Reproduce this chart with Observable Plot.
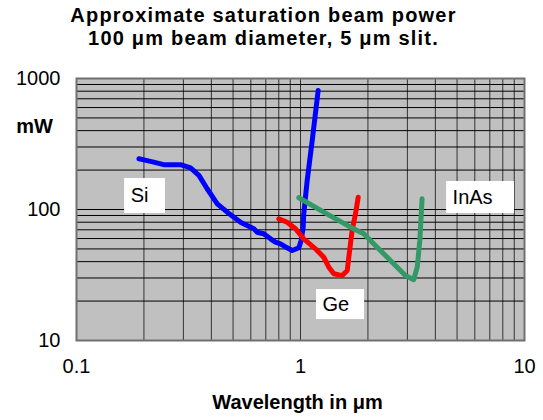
<!DOCTYPE html>
<html>
<head>
<meta charset="utf-8">
<script src="https://cdn.jsdelivr.net/npm/d3@7"></script>
<script src="https://cdn.jsdelivr.net/npm/@observablehq/plot@0.6"></script>
<style>
  body { margin: 0; background: #fff; font-family: "Liberation Sans", Arial, sans-serif; }
  #wrap { width: 543px; height: 420px; position: relative; }
  #title { width: 527px; height: 62px; text-align: center; font-weight: bold; font-size: 20px; line-height: 23px; padding-top: 4px; box-sizing: border-box; letter-spacing: 1.2px; }
</style>
</head>
<body>
<div id="wrap">
  <div id="title">Approximate saturation beam power<br>100 μm beam diameter, 5 μm slit.</div>
  <div id="chart"></div>
</div>
<script>
// Silicon
const siWavelength = [0.190, 0.200, 0.221, 0.245, 0.291, 0.323, 0.352, 0.383, 0.425, 0.471, 0.540, 0.619, 0.641, 0.685, 0.735, 0.773, 0.814, 0.872, 0.918, 0.983, 1.007, 1.028, 1.034, 1.071, 1.128, 1.199];
const siPower      = [244, 239, 230, 220, 220, 208, 182, 144, 110.5, 95.4, 80, 71.3, 67.1, 65.3, 59.7, 56.3, 54.7, 51, 48.6, 51, 58, 73.3, 92.7, 166, 336, 810];
// Germanium
const geWavelength = [0.80, 0.872, 0.950, 1.034, 1.166, 1.27, 1.338, 1.408, 1.535, 1.617, 1.643, 1.70, 1.76, 1.81];
const gePower      = [84.9, 80, 71.3, 59.7, 50.1, 43.2, 36.3, 32.3, 31.3, 34.2, 43.2, 69.2, 92.7, 124];
// Indium arsenide
const inasWavelength = [0.983, 1.27, 1.672, 1.917, 2.12, 2.52, 2.94, 3.20, 3.32, 3.41, 3.49];
const inasPower      = [123, 95.4, 73.3, 65.3, 54.7, 40.8, 31.3, 29.1, 36.3, 58, 120.8];

const xTicks = [0.1, 1, 10];
const yTicks = [10, 100, 1000];
const xGrid = [0.2, 0.3, 0.4, 0.5, 0.6, 0.7, 0.8, 0.9, 1, 2, 3, 4, 5, 6, 7, 8, 9];
const yGrid = [20, 30, 40, 50, 60, 70, 80, 90, 100, 200, 300, 400, 500, 600, 700, 800, 900];

// Label boxes (data coordinates)
const labelNames = ["Si", "Ge", "InAs"];
const labelX1 = [0.164, 1.179, 4.49];
const labelX2 = [0.2495, 1.931, 9.02];
const labelY1 = [93.2, 14.45, 93.2];
const labelY2 = [172.5, 24.5, 163.6];

const series = [
  {name: "Si", xs: siWavelength, ys: siPower, color: "#0000FF"},
  {name: "Ge", xs: geWavelength, ys: gePower, color: "#FF0000"},
  {name: "InAs", xs: inasWavelength, ys: inasPower, color: "#339966"}
];
const rows = series.flatMap(s => s.xs.map((x, i) => ({series: s.name, x, y: s.ys[i], color: s.color})));
const labels = labelNames.map((t, i) => ({t, x1: labelX1[i], x2: labelX2[i], y1: labelY1[i], y2: labelY2[i], ym: Math.sqrt(labelY1[i] * labelY2[i])}));

const chart = Plot.plot({
  width: 543,
  height: 358,
  marginLeft: 76,
  marginRight: 19,
  marginTop: 16,
  marginBottom: 80,
  style: {fontFamily: "Liberation Sans, Arial, sans-serif", fontSize: "20px", color: "#000", background: "transparent"},
  x: {type: "log", domain: [0.1, 10]},
  y: {type: "log", domain: [10, 1000]},
  marks: [
    Plot.frame({fill: "#C0C0C0"}),
    Plot.ruleX(xGrid, {stroke: "#333", strokeWidth: 1}),
    Plot.ruleY(yGrid, {stroke: "#000", strokeWidth: 1}),
    Plot.line(rows, {x: "x", y: "y", z: "series", stroke: "color", strokeWidth: 5, strokeLinejoin: "round", strokeLinecap: "round"}),
    Plot.rect(labels, {x1: "x1", x2: "x2", y1: "y1", y2: "y2", fill: "white"}),
    Plot.text(labels, {x: "x1", y: "ym", text: "t", textAnchor: "start", dx: 6, fontSize: 20, fill: "#000"}),
    Plot.frame({stroke: "#707070", strokeWidth: 2}),
    Plot.axisX(xTicks, {tickSize: 0, tickPadding: 18, tickFormat: d => String(d), label: null, fontSize: 20}),
    Plot.axisY(yTicks, {tickSize: 0, tickPadding: 16, tickFormat: d => String(d), label: null, fontSize: 20}),
    Plot.text(["mW"], {frameAnchor: "top-left", textAnchor: "middle", lineAnchor: "middle", dx: -42, dy: 48, text: d => d, fontWeight: "bold", fontSize: 20}),
    Plot.text(["Wavelength in μm"], {frameAnchor: "bottom", textAnchor: "middle", lineAnchor: "middle", dx: -3, dy: 62, text: d => d, fontWeight: "bold", fontSize: 20, letterSpacing: "1.5px"})
  ]
});
document.getElementById("chart").appendChild(chart);
</script>
</body>
</html>
